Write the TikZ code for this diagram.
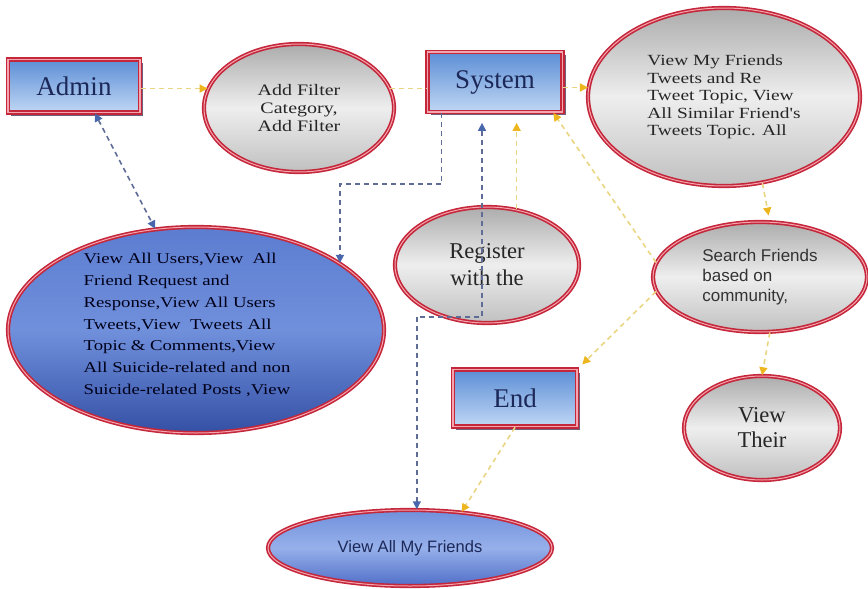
\documentclass[tikz,border=0pt]{standalone}
\usepackage{fontspec}
\setmainfont{Liberation Serif}
\setsansfont{Liberation Sans}
\newfontfamily\widerm[FakeStretch=1.25]{Liberation Serif}
\usetikzlibrary{shapes.geometric,arrows.meta,shadows}

\definecolor{frame}{RGB}{196,38,58}
\definecolor{framein}{RGB}{245,165,175}
\definecolor{boxtop}{RGB}{92,142,214}
\definecolor{boxbot}{RGB}{192,215,244}
\definecolor{boxtxt}{RGB}{28,40,88}
\definecolor{boxshade}{RGB}{95,80,110}
\definecolor{ovaltop}{RGB}{172,172,172}
\definecolor{ovalmid}{RGB}{238,238,238}
\definecolor{ovalbot}{RGB}{192,192,192}
\definecolor{bluetop}{RGB}{92,124,208}
\definecolor{bluemid}{RGB}{112,144,220}
\definecolor{bluebot}{RGB}{52,80,165}
\definecolor{palemid}{RGB}{150,176,234}
\definecolor{palebot}{RGB}{80,110,200}
\definecolor{dashy}{RGB}{234,214,130}
\definecolor{tipy}{RGB}{238,182,30}
\definecolor{dashb}{RGB}{95,108,150}
\definecolor{tipb}{RGB}{72,102,172}

\begin{document}
\begin{tikzpicture}[x=1pt,y=-1pt,
  box/.style={rectangle, draw=frame, double=framein, double distance=1.2pt, line width=1.8pt,
    top color=boxtop, bottom color=boxbot, text=boxtxt, font=\fontsize{27}{32}\selectfont,
    drop shadow={shadow xshift=3pt, shadow yshift=-3pt, fill=boxshade, opacity=.9}},
  oval/.style={ellipse, draw=frame, double=framein, double distance=1pt, line width=1.6pt,
    top color=ovaltop, bottom color=ovalbot, middle color=ovalmid, inner sep=0pt,
    align=center, text=black!85},
  blueoval/.style={oval, top color=bluetop, bottom color=bluebot, middle color=bluemid},
  paleoval/.style={oval, top color=bluemid, bottom color=palebot, middle color=palemid},
  yline/.style={draw=dashy, line width=1.6pt, dash pattern=on 5pt off 4pt},
  yarrow/.style={yline, -{Triangle[length=8pt,width=8pt,color=tipy]}},
  bline/.style={draw=dashb, line width=1.6pt, dash pattern=on 5pt off 4pt},
  barrow/.style={bline, -{Triangle[length=8pt,width=8pt,color=tipb]}},
  bboth/.style={bline, {Triangle[length=8pt,width=8pt,color=tipb]}-{Triangle[length=8pt,width=8pt,color=tipb]}}]
\useasboundingbox (0,0) rectangle (868,589);

%%%%%%%%%%%%%%%% boxes and ovals
\node[box, minimum width=132pt, minimum height=53pt] (admin) at (74,86) {Admin};
\node[oval, minimum width=190pt, minimum height=128pt,
  font=\widerm\fontsize{16}{18}\selectfont] (filter) at (299,108) {Add Filter\\Category,\\Add Filter};
\node[box, minimum width=135pt, minimum height=60pt] (system) at (495,82) {System};
\node[oval, minimum width=272pt, minimum height=178pt, align=left,
  font=\widerm\fontsize{15.5}{17.5}\selectfont] (tweets) at (724,97)
  {View My Friends\\Tweets and Re\\Tweet Topic, View\\All Similar Friend's\\Tweets Topic. All};
\node[blueoval, minimum width=376pt, minimum height=206pt] (users) at (196,330) {};
\node[align=left, text=black!90!blue, font=\widerm\fontsize{15}{21.7}\selectfont]
  (userstext) at ([xshift=-9pt,yshift=5pt]users.center)
  {View All Users,View\ \ All\\Friend Request and\\Response,View All Users\\Tweets,View\ \ Tweets All\\
   Topic \& Comments,View\\All Suicide-related and non\\Suicide-related Posts ,View};
\node[oval, minimum width=184pt, minimum height=116pt,
  font=\fontsize{22.6}{27}\selectfont] (register) at (487,265) {Register\\with the};
\node[oval, minimum width=214pt, minimum height=110pt, align=left,
  font=\sffamily\fontsize{17}{20}\selectfont, text=black!80] (search) at (760,277)
  {Search Friends\\based on\\community,};
\node[box, minimum width=124pt, minimum height=57pt] (finish) at (515,398) {End};
\node[oval, minimum width=156pt, minimum height=104pt,
  font=\fontsize{22.6}{25}\selectfont] (their) at (762,428) {View\\Their};
\node[paleoval, minimum width=284pt, minimum height=76pt, text=boxtxt,
  font=\sffamily\fontsize{16.5}{20}\selectfont] (friends) at (410,548) {View All My Friends};

%%%%%%%%%%%%%%%% yellow links
\draw[yarrow] (admin.east |- filter.168) -- (filter.168);
\draw[yline] (filter.12) -- (system.west |- filter.12);
\draw[yarrow] (system.east |- tweets.176) -- (tweets.176);
\draw[yarrow, shorten >=10pt] (register.62) -- (register.62 |- system.south);
\draw[yarrow] (search.172) -- ([xshift=-10pt]system.south east);
\draw[yarrow, shorten >=6pt] (tweets.-66) -- (search.80);
\draw[yarrow, shorten >=6pt] (search.188) -- (finish.north east);
\draw[yarrow] (search.-80) -- (their.north);
\draw[yarrow] (finish.south) -- (friends.35);

%%%%%%%%%%%%%%%% blue links
\draw[bboth] ([xshift=21pt]admin.south) -- (users.112);
\draw[barrow] ([xshift=15pt]system.south west) -- ++(0,71) -| (users.25);
\draw[bboth, shorten <=10pt] ([xshift=-13pt]system.south) -- ++(0,204) -| (friends.80);
\end{tikzpicture}
\end{document}
